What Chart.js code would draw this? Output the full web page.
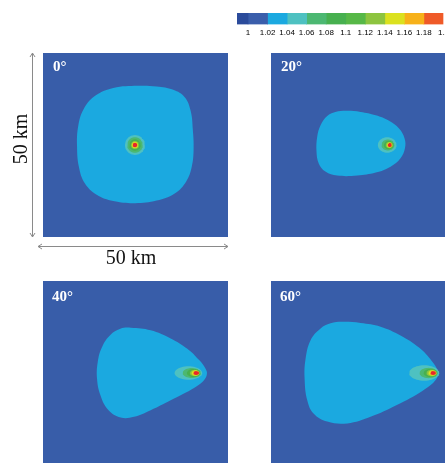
<!DOCTYPE html>
<html><head><meta charset="utf-8">
<script src="https://cdn.jsdelivr.net/npm/chart.js@4.4.1/dist/chart.umd.min.js"></script>
<style>
html,body{margin:0;padding:0;background:#fff;width:445px;height:463px;overflow:hidden;position:relative;}
canvas{position:absolute;}
.pl{position:absolute;color:#fff;font:bold 15px "Liberation Serif","DejaVu Serif",serif;line-height:15px;white-space:nowrap;}
.km{position:absolute;font:20px "Liberation Serif","DejaVu Serif",serif;line-height:20px;color:#111;width:60px;height:20px;text-align:center;white-space:nowrap;}
</style></head><body>
<canvas id="cb" width="215" height="23" style="left:237px;top:13px"></canvas>
<canvas id="p0" width="185" height="184" style="left:43px;top:53px;background:#385da9"></canvas>
<canvas id="p1" width="185" height="184" style="left:271px;top:53px;background:#385da9"></canvas>
<canvas id="p2" width="185" height="184" style="left:43px;top:281px;background:#385da9"></canvas>
<canvas id="p3" width="185" height="184" style="left:271px;top:281px;background:#385da9"></canvas>
<svg width="445" height="463" style="position:absolute;left:0;top:0">
<g stroke="#8a8a8a" stroke-width="1" fill="none">
<line x1="32.5" y1="53" x2="32.5" y2="237"/>
<polyline points="30,57 32.5,53 35,57"/>
<polyline points="30,233 32.5,237 35,233"/>
<line x1="38" y1="246.5" x2="228" y2="246.5"/>
<polyline points="42,244 38,246.5 42,249"/>
<polyline points="224,244 228,246.5 224,249"/>
</g></svg>
<div class="pl" style="left:53px;top:59px">0°</div>
<div class="pl" style="left:281px;top:59px">20°</div>
<div class="pl" style="left:52px;top:289px">40°</div>
<div class="pl" style="left:280px;top:289px">60°</div>
<div class="km" style="left:101px;top:247px">50 km</div>
<div class="km" style="left:-10px;top:129px;transform:rotate(-90deg)">50 km</div>
<script>
// colour-bar levels
const cbEdges = [0.9887, 1, 1.02, 1.04, 1.06, 1.08, 1.1, 1.12, 1.14, 1.16, 1.18, 1.2];
const cbTicks = [1, 1.02, 1.04, 1.06, 1.08, 1.1, 1.12, 1.14, 1.16, 1.18, 1.2];
const bandColors = ['#2b4b9b', '#3a5eab', '#1ba9e0', '#4ec1c1', '#4cb872', '#47b04f', '#57b847', '#8dc43f', '#dbe11f', '#f7b11a', '#ef5a28'];
const centerColor = '#e8262a';

// panel titles (incidence angle)
const angles = ['0°', '20°', '40°', '60°'];

// outline of the 1.02–1.04 region (km, x from left, y from bottom)
const region0 = [[25.7,41.1],[30.7,40.9],[35.2,40.0],[38.3,38.0],[39.9,34.3],[40.5,29.1],[40.7,23.7],[40.2,19.1],[38.7,15.1],[35.7,11.9],[30.7,9.9],[24.9,9.2],[19.0,9.8],[14.5,11.5],[11.3,14.6],[9.7,19.1],[9.2,24.6],[9.5,30.0],[10.9,34.6],[14.0,38.3],[19.0,40.5]];
const region20 = [[20.6,34.3],[24.2,34.0],[28.3,33.1],[31.9,31.6],[34.6,29.5],[36.1,26.8],[36.2,24.1],[35.0,21.4],[32.3,19.1],[28.3,17.5],[23.3,16.7],[17.9,16.7],[14.7,17.8],[12.9,20.0],[12.3,23.2],[12.5,27.3],[13.4,30.4],[15.2,32.9],[17.4,34.0]];
const region40 = [[23.7,37.3],[29.1,36.6],[34.5,34.4],[39.0,31.6],[42.2,28.5],[43.9,26.2],[44.3,24.7],[43.4,22.9],[40.1,20.5],[34.5,17.6],[29.1,14.9],[24.6,13.1],[21.0,12.9],[17.6,15.0],[15.5,19.0],[14.6,23.5],[14.8,28.0],[16.0,32.1],[18.2,35.3],[20.9,37.0]];
const region60 = [[19.2,38.9],[24.2,38.6],[29.6,37.6],[35.0,35.2],[40.0,31.9],[43.5,28.2],[45.0,25.5],[44.6,23.2],[41.0,20.2],[34.0,16.3],[26.9,13.1],[20.6,11.3],[15.2,11.8],[11.5,14.0],[9.8,17.6],[9.1,23.1],[9.3,28.5],[10.7,33.9],[13.4,37.1],[16.1,38.5]];

// hot-spot contours: [centre x, centre y, half-width, half-height, band index] (km)
const hot0 = [[24.85,25,2.7,2.7,3],[24.85,25,2.1,2.1,4],[24.85,25,1.55,1.55,5],[24.85,25,1.1,1.1,7],[24.85,25,0.85,0.85,8],[24.85,25,0.62,0.62,11]];
const hot20 = [[31.4,25,2.52,2.09,3],[31.6,25,1.75,1.5,4],[31.8,25,1.3,1.15,5],[31.95,25,0.95,0.85,7],[32.05,25,0.75,0.7,8],[32.1,25,0.55,0.55,11]];
const hot40 = [[39.3,25,3.74,1.82,3],[40.2,25,2.45,1.35,4],[40.7,25,1.8,1.1,5],[41.0,25,1.3,0.85,7],[41.2,25,1.05,0.72,8],[41.4,25,0.8,0.52,11]];
const hot60 = [[41.4,25,4.07,2.09,3],[42.6,25,2.45,1.4,4],[43.1,25,1.85,1.1,5],[43.4,25,1.4,0.9,7],[43.6,25,1.1,0.72,8],[43.8,25,0.8,0.52,11]];

const regions = [region0, region20, region40, region60];
const hots = [hot0, hot20, hot40, hot60];

function loop(pts){
  const p = pts.map(q => ({x:q[0], y:q[1]}));
  return [p[p.length-1], ...p, p[0], p[1]];
}
function ellipse(h){
  const out = [];
  for (let k = 0; k <= 48; k++){
    const a = k / 48 * Math.PI * 2;
    out.push({x: h[0] + h[2]*Math.cos(a), y: h[1] + h[3]*Math.sin(a)});
  }
  return out;
}
const colorOf = b => b >= bandColors.length ? centerColor : bandColors[b];

// colour bar
const bands = [];
for (let i = 0; i < cbEdges.length - 1; i++) bands.push([cbEdges[i], cbEdges[i+1]]);
new Chart(document.getElementById('cb'), {
  type: 'bar',
  data: { labels: ['v'], datasets: bands.map((b, i) => ({
    data: [[b[0], b[1]]], backgroundColor: bandColors[i], borderWidth: 0,
    grouped: false, barPercentage: 1, categoryPercentage: 1 })) },
  options: {
    indexAxis: 'y', responsive: false, animation: false, devicePixelRatio: 1, events: [],
    layout: { padding: 0 },
    plugins: { legend: { display: false }, tooltip: { enabled: false } },
    scales: {
      y: { display: false },
      x: { type: 'linear', min: cbEdges[0], max: cbEdges[cbEdges.length-1],
        grid: { display: false, drawTicks: false }, border: { display: false },
        afterBuildTicks: s => { s.ticks = cbTicks.map(v => ({ value: v })); },
        ticks: { autoSkip: false, maxRotation: 0, padding: 3, color: '#000',
          font: { size: 8, family: 'Liberation Sans, Arial, sans-serif' },
          callback: v => String(+(+v).toFixed(2)) } }
    }
  }
});

// panels
regions.forEach((reg, pi) => {
  const ds = [];
  ds.push({ data: loop(reg), backgroundColor: bandColors[2], tension: 0.4 });
  hots[pi].forEach(h => ds.push({ data: ellipse(h), backgroundColor: colorOf(h[4]), tension: 0 }));
  ds.forEach((d, i) => Object.assign(d, { showLine: true, fill: 'shape', borderWidth: 0,
    borderColor: 'rgba(0,0,0,0)', pointRadius: 0, pointHoverRadius: 0, order: -i }));
  new Chart(document.getElementById('p' + pi), {
    type: 'scatter',
    data: { datasets: ds },
    options: {
      responsive: false, animation: false, devicePixelRatio: 1, events: [],
      layout: { padding: 0 },
      plugins: { legend: { display: false }, tooltip: { enabled: false } },
      scales: {
        x: { type: 'linear', min: 0, max: 50, display: false },
        y: { type: 'linear', min: 0, max: 50, display: false }
      }
    }
  });
});
</script>
</body></html>
